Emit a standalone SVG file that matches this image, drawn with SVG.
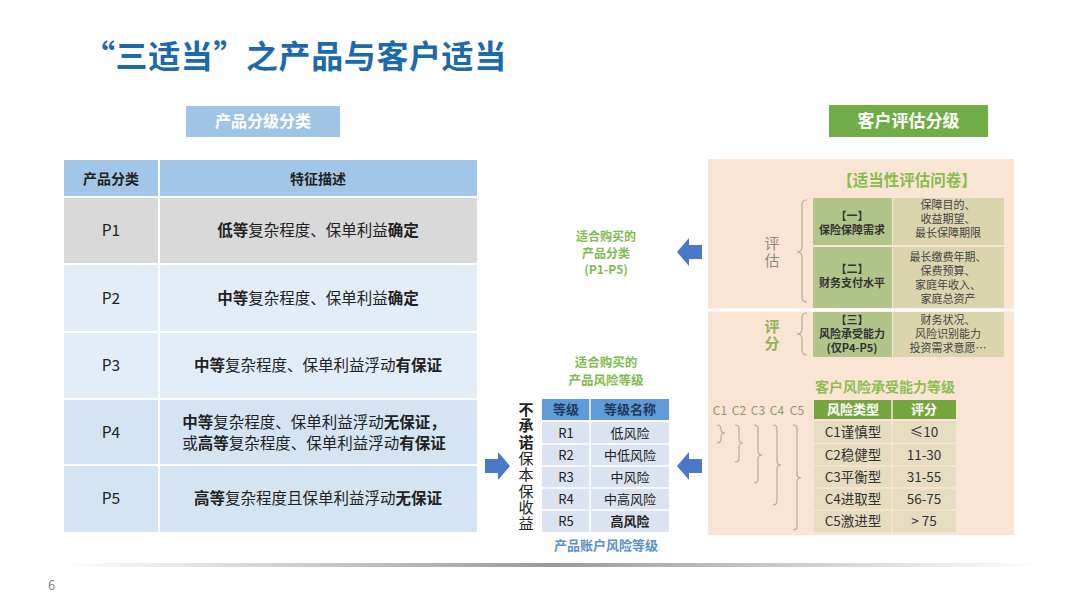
<svg xmlns="http://www.w3.org/2000/svg" width="1080" height="608" viewBox="0 0 1080 608">
<defs>
<style>
text{font-family:"Noto Sans CJK SC","Noto Sans",sans-serif;}
.title{font-size:32px;font-weight:700;fill:#1c69ab;}
.tag{font-size:16px;font-weight:700;fill:#ffffff;text-anchor:middle;}
.th{font-size:14px;font-weight:700;fill:#222;text-anchor:middle;}
.td{font-size:15.5px;fill:#222;text-anchor:middle;}
.b{font-weight:700;}
.gr{font-size:13px;font-weight:700;fill:#80bb50;text-anchor:middle;}
.rh{font-size:13px;font-weight:700;fill:#23395c;text-anchor:middle;}
.rd{font-size:13px;fill:#222;text-anchor:middle;}
.vt{font-size:15px;fill:#222;writing-mode:vertical-rl;text-orientation:upright;letter-spacing:1.3px;}
.vl{font-size:15px;writing-mode:vertical-rl;text-orientation:upright;letter-spacing:2px;}
.c1{font-size:11px;font-weight:700;fill:#333;text-anchor:middle;}
.c2{font-size:11px;fill:#444;text-anchor:middle;}
.ch{font-size:13px;font-weight:700;fill:#ffffff;text-anchor:middle;}
.cd{font-size:13.5px;fill:#333;text-anchor:middle;}
.cl{font-size:12px;fill:#8d9a6c;text-anchor:middle;}
.brace{fill:none;stroke:#b9aa92;stroke-width:1.2;}
.barrow{fill:#4a78c6;}
</style>
<linearGradient id="rule" x1="0" y1="0" x2="1" y2="0">
<stop offset="0" stop-color="#ffffff"/>
<stop offset="0.5" stop-color="#9a9a9a"/>
<stop offset="1" stop-color="#ffffff"/>
</linearGradient>
</defs>
<rect width="1080" height="608" fill="#ffffff"/>

<g id="title">
<text class="title" x="83" y="68" letter-spacing="0.6">“三适当”之产品与客户适当</text>
</g>

<g id="tag-product">
<rect x="186" y="106" width="154" height="31" fill="#a0c4e6"/>
<text class="tag" x="263" y="127">产品分级分类</text>
</g>

<g id="product-table">
<rect x="64" y="160" width="413" height="37" fill="#a2c6e8"/>
<rect x="64" y="197" width="413" height="67" fill="#d9d9d9"/>
<rect x="64" y="264" width="413" height="68" fill="#e3edf8"/>
<rect x="64" y="332" width="413" height="67" fill="#e3edf8"/>
<rect x="64" y="399" width="413" height="66" fill="#d5e4f3"/>
<rect x="64" y="465" width="413" height="67" fill="#d5e4f3"/>
<g stroke="#ffffff" stroke-width="2">
<line x1="159" y1="160" x2="159" y2="532"/>
<line x1="64" y1="197" x2="477" y2="197"/>
<line x1="64" y1="264" x2="477" y2="264"/>
<line x1="64" y1="332" x2="477" y2="332"/>
<line x1="64" y1="399" x2="477" y2="399"/>
<line x1="64" y1="465" x2="477" y2="465"/>
</g>
<text class="th" x="111" y="184">产品分类</text>
<text class="th" x="318" y="184">特征描述</text>
<text class="td" x="111" y="236">P1</text>
<text class="td" x="318" y="236"><tspan class="b">低等</tspan>复杂程度、保单利益<tspan class="b">确定</tspan></text>
<text class="td" x="111" y="304">P2</text>
<text class="td" x="318" y="304"><tspan class="b">中等</tspan>复杂程度、保单利益<tspan class="b">确定</tspan></text>
<text class="td" x="111" y="371">P3</text>
<text class="td" x="318" y="371"><tspan class="b">中等</tspan>复杂程度、保单利益浮动<tspan class="b">有保证</tspan></text>
<text class="td" x="111" y="438">P4</text>
<text class="td" x="314" y="428"><tspan class="b">中等</tspan>复杂程度、保单利益浮动<tspan class="b">无保证，</tspan><tspan x="314" dy="21">或</tspan><tspan class="b">高等</tspan>复杂程度、保单利益浮动<tspan class="b">有保证</tspan></text>
<text class="td" x="111" y="504">P5</text>
<text class="td" x="318" y="504"><tspan class="b">高等</tspan>复杂程度且保单利益浮动<tspan class="b">无保证</tspan></text>
</g>

<g id="suitable-class">
<text class="gr" x="606" y="241" style="font-size:12px">适合购买的<tspan x="606" dy="16.5">产品分类</tspan><tspan x="606" dy="16.5">(P1-P5)</tspan></text>
</g>

<g id="suitable-risk">
<text class="gr" x="606" y="367" style="font-size:12.5px">适合购买的<tspan x="606" dy="17.5">产品风险等级</tspan></text>
</g>

<g id="no-promise">
<text class="vt" x="526" y="402"><tspan class="b">不承诺</tspan>保本保收益</text>
</g>

<g id="risk-table">
<rect x="542" y="399" width="127" height="21" fill="#5f9bd6"/>
<rect x="542" y="422" width="127" height="110" fill="#dae3ef"/>
<g stroke="#ffffff" stroke-width="1.5">
<line x1="590" y1="399" x2="590" y2="532"/>
<line x1="542" y1="444" x2="669" y2="444"/>
<line x1="542" y1="466" x2="669" y2="466"/>
<line x1="542" y1="488" x2="669" y2="488"/>
<line x1="542" y1="510" x2="669" y2="510"/>
</g>
<text class="rh" x="566" y="414">等级</text>
<text class="rh" x="630" y="414">等级名称</text>
<text class="rd" x="566" y="438">R1</text><text class="rd" x="630" y="438">低风险</text>
<text class="rd" x="566" y="460">R2</text><text class="rd" x="630" y="460">中低风险</text>
<text class="rd" x="566" y="482">R3</text><text class="rd" x="630" y="482">中风险</text>
<text class="rd" x="566" y="504">R4</text><text class="rd" x="630" y="504">中高风险</text>
<text class="rd b" x="630" y="526">高风险</text><text class="rd" x="566" y="526">R5</text>
<text class="gr" x="606" y="550" style="fill:#5b8fc9">产品账户风险等级</text>
</g>

<g id="connectors">
<path class="barrow" d="M485,459 L498,459 L498,452 L510,466 L498,480 L498,473 L485,473 Z"/>
<path class="barrow" d="M702,459 L689,459 L689,452 L677,466 L689,480 L689,473 L702,473 Z"/>
<path class="barrow" d="M702,245 L689,245 L689,238 L677,252 L689,266 L689,259 L702,259 Z"/>
<path fill="#6f9f3a" transform="translate(797,378) rotate(45)" d="M-14,-5 L0,-5 L0,-13 L14,0 L0,13 L0,5 L-14,5 Z"/>
</g>

<g id="tag-customer">
<rect x="829" y="105" width="159" height="32" fill="#70ad47"/>
<text class="tag" x="908.5" y="127" style="font-size:17px">客户评估分级</text>
</g>

<g id="customer-panel">
<rect x="708" y="159" width="306" height="376" fill="#fae5d5"/>
<line x1="708" y1="310" x2="1014" y2="310" stroke="#ffffff" stroke-width="3"/>
<text x="907" y="186" text-anchor="middle" font-size="15.5" font-weight="700" fill="#88bd4e">【适当性评估问卷】</text>
</g>

<g id="questionnaire">
<rect x="813" y="198" width="79" height="47" fill="#b1c489"/>
<rect x="893" y="198" width="111" height="47" fill="#dbd5ad"/>
<rect x="813" y="247" width="79" height="61" fill="#b1c489"/>
<rect x="893" y="247" width="111" height="61" fill="#dbd5ad"/>
<rect x="813" y="312" width="79" height="45" fill="#b1c489"/>
<rect x="893" y="312" width="111" height="45" fill="#dbd5ad"/>
<text class="c1" x="852" y="220">【一】<tspan x="852" dy="14">保险保障需求</tspan></text>
<text class="c2" x="948" y="209">保障目的、<tspan x="948" dy="14">收益期望、</tspan><tspan x="948" dy="14">最长保障期限</tspan></text>
<text class="c1" x="852" y="273">【二】<tspan x="852" dy="14">财务支付水平</tspan></text>
<text class="c2" x="948" y="261">最长缴费年期、<tspan x="948" dy="14">保费预算、</tspan><tspan x="948" dy="14">家庭年收入、</tspan><tspan x="948" dy="14">家庭总资产</tspan></text>
<text class="c1" x="852" y="324">【三】<tspan x="852" dy="14">风险承受能力</tspan><tspan x="852" dy="14">(仅P4-P5)</tspan></text>
<text class="c2" x="948" y="324">财务状况、<tspan x="948" dy="14">风险识别能力</tspan><tspan x="948" dy="14">投资需求意愿…</tspan></text>
</g>

<g id="eval-labels">
<text class="vl" x="772" y="236" fill="#8d8a7a">评估</text>
<path class="brace" d="M807,200 q-5,0 -5,5 L802,247 q0,5 -5,5 q5,0 5,5 L802,297 q0,5 5,5"/>
<text class="vl" x="772" y="319" font-weight="700" fill="#8fb356">评分</text>
<path class="brace" d="M807,313 q-5,0 -5,5 L802,329 q0,5 -5,5 q5,0 5,5 L802,350 q0,5 5,5"/>
</g>

<g id="risk-level-title">
<text x="885" y="392" text-anchor="middle" font-size="14" font-weight="700" fill="#8cbf50">客户风险承受能力等级</text>
</g>

<g id="c-labels">
<text class="cl" x="720" y="415">C1</text>
<text class="cl" x="739" y="415">C2</text>
<text class="cl" x="758" y="415">C3</text>
<text class="cl" x="777" y="415">C4</text>
<text class="cl" x="797" y="415">C5</text>
<path class="brace" d="M717,425 q4,0 4,4 L721,429 q0,4 4,4 q-4,0 -4,4 L721,439 q0,4 -4,4"/>
<path class="brace" d="M735,425 q4,0 4,4 L739,439 q0,4 4,4 q-4,0 -4,4 L739,458 q0,4 -4,4"/>
<path class="brace" d="M754,425 q4,0 4,4 L758,451 q0,4 4,4 q-4,0 -4,4 L758,479 q0,4 -4,4"/>
<path class="brace" d="M773,425 q4,0 4,4 L777,461 q0,4 4,4 q-4,0 -4,4 L777,501 q0,4 -4,4"/>
<path class="brace" d="M793,425 q4,0 4,4 L797,474 q0,4 4,4 q-4,0 -4,4 L797,526 q0,4 -4,4"/>
</g>

<g id="risk-type-table">
<rect x="814" y="400" width="142" height="19" fill="#77a641"/>
<rect x="814" y="421" width="142" height="111" fill="#e6dcbf"/>
<g stroke="#fae5d5" stroke-width="1.5">
<line x1="892" y1="400" x2="892" y2="532"/>
<line x1="814" y1="443.5" x2="956" y2="443.5"/>
<line x1="814" y1="466" x2="956" y2="466"/>
<line x1="814" y1="488" x2="956" y2="488"/>
<line x1="814" y1="510" x2="956" y2="510"/>
</g>
<text class="ch" x="853" y="414">风险类型</text>
<text class="ch" x="924" y="414">评分</text>
<text class="cd" x="853" y="437">C1谨慎型</text><text class="cd" x="924" y="437">≤10</text>
<text class="cd" x="853" y="460">C2稳健型</text><text class="cd" x="924" y="460">11-30</text>
<text class="cd" x="853" y="482">C3平衡型</text><text class="cd" x="924" y="482">31-55</text>
<text class="cd" x="853" y="504">C4进取型</text><text class="cd" x="924" y="504">56-75</text>
<text class="cd" x="853" y="526">C5激进型</text><text class="cd" x="924" y="526">&gt; 75</text>
</g>

<g id="footer">
<rect x="60" y="563" width="980" height="4" fill="url(#rule)"/>
<text x="48" y="590" font-size="13" fill="#888">6</text>
</g>
</svg>
